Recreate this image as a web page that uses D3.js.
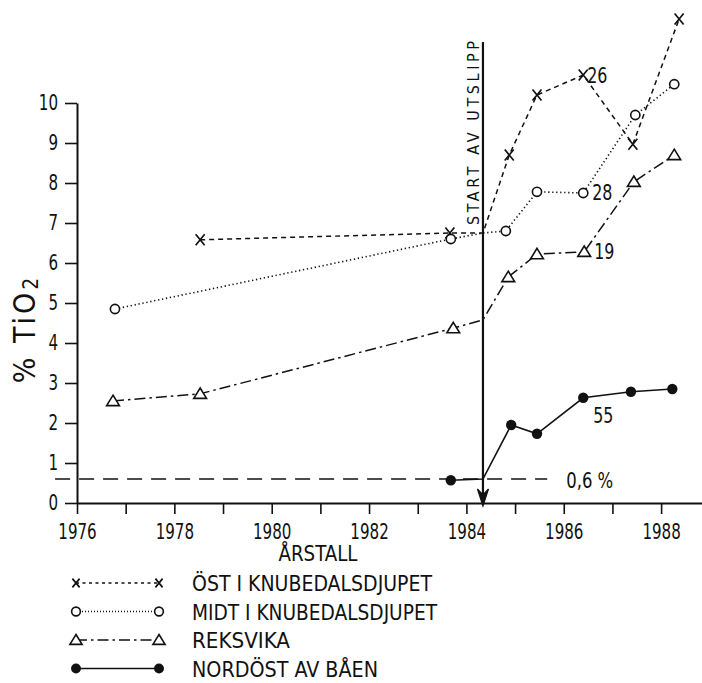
<!DOCTYPE html>
<html>
<head>
<meta charset="utf-8">
<script src="https://cdn.jsdelivr.net/npm/d3@7"></script>
<style>
  body { margin: 0; background: #fff; }
  svg text { font-family: "DejaVu Sans Condensed", "Liberation Sans", sans-serif; fill: #111; }
</style>
</head>
<body>
<div id="chart"></div>
<script>
var width = 702;
var height = 683;

// values (year, % TiO2), one pair of lists per station
var seriesNames = ["ÖST I KNUBEDALSDJUPET", "MIDT I KNUBEDALSDJUPET", "REKSVIKA", "NORDÖST AV BÅEN"];
var ostYears   = [1978.53, 1983.66, 1984.34, 1984.88, 1985.45, 1986.40, 1987.42, 1988.37];
var ostValues  = [6.58, 6.75, 6.75, 8.70, 10.20, 10.70, 8.97, 12.10];
var midtYears  = [1976.78, 1983.68, 1984.34, 1984.81, 1985.45, 1986.40, 1987.47, 1988.27];
var midtValues = [4.85, 6.60, 6.75, 6.80, 7.78, 7.75, 9.70, 10.47];
var reksYears  = [1976.74, 1978.53, 1983.73, 1984.34, 1984.86, 1985.45, 1986.42, 1987.44, 1988.27];
var reksValues = [2.55, 2.73, 4.37, 4.58, 5.65, 6.22, 6.28, 8.03, 8.70];
var nordYears  = [1983.68, 1984.34, 1984.92, 1985.45, 1986.40, 1987.38, 1988.23];
var nordValues = [0.57, 0.60, 1.95, 1.73, 2.63, 2.78, 2.85];

// numbers written next to the 1986 samples
var pointLabels = ["26", "28", "19", "55"];
var labelYear = 1986.4;

// discharge start and the 0.6 % background level
var startYear = 1984.34;
var startText = "START AV UTSLIPP";
var refValue = 0.6;
var refFrom = 1975.55;
var refTo = 1985.66;
var refText = "0,6 %";

var yearTicks = d3.range(1976, 1989);
var valueTicks = d3.range(0, 11);
var xTitle = "ÅRSTALL";

var svg = d3.select("#chart").append("svg")
  .attr("width", width)
  .attr("height", height)
  .style("display", "block");

var x = d3.scaleLinear().domain([1976, 1988.84]).range([77, 702]);
var y = d3.scaleLinear().domain([0, 10]).range([503, 103]);

var series = [
  {name: seriesNames[0], years: ostYears,  values: ostValues,  marker: "cross",    dash: "5,4",        width: 1.5},
  {name: seriesNames[1], years: midtYears, values: midtValues, marker: "circle",   dash: "1.3,2.7",    width: 1.6},
  {name: seriesNames[2], years: reksYears, values: reksValues, marker: "triangle", dash: "11,4,2.5,4", width: 1.5},
  {name: seriesNames[3], years: nordYears, values: nordValues, marker: "dot",      dash: null,         width: 1.6}
];
series.forEach(function(s){
  s.points = s.years.map(function(yr, i){ return {year: yr, value: s.values[i]}; });
});

// offsets of the small numbers from their point
var labelOffsets = [[4, 8], [9, 7], [10, 7], [10, 25]];

// the lettering on the drawing is a narrow stencil style, so squeeze the glyphs
var digitWidth = 9.6;
var narrow = function(sel, w){
  sel.attr("textLength", w).attr("lengthAdjust", "spacingAndGlyphs");
};

var drawMarker = function(g, type, size){
  var k = size || 1;
  if(type == "cross"){
    g.append("path")
      .attr("d", "M" + (-4.5*k) + "," + (-5.5*k) + "L" + (4.5*k) + "," + (5.5*k) +
                 "M" + (-4.5*k) + "," + (5.5*k) + "L" + (4.5*k) + "," + (-5.5*k))
      .attr("stroke", "#111").attr("stroke-width", 1.7).attr("fill", "none");
  } else if(type == "circle"){
    g.append("circle").attr("r", 4.6*k)
      .attr("fill", "#fff").attr("stroke", "#111").attr("stroke-width", 1.6);
  } else if(type == "triangle"){
    g.append("path")
      .attr("d", "M0," + (-5.8*k) + "L" + (6.4*k) + "," + (4.6*k) + "L" + (-6.4*k) + "," + (4.6*k) + "Z")
      .attr("fill", "#fff").attr("stroke", "#111").attr("stroke-width", 1.6);
  } else {
    g.append("circle").attr("r", 5.2*k).attr("fill", "#111");
  }
};

// axes
var xAxis = d3.axisBottom(x)
  .tickValues(yearTicks)
  .tickSizeInner(11)
  .tickSizeOuter(0)
  .tickPadding(10)
  .tickFormat(function(d){ return d % 2 == 0 ? d : ""; });

var yAxis = d3.axisLeft(y)
  .tickValues(valueTicks)
  .tickSizeInner(12)
  .tickSizeOuter(0)
  .tickPadding(7)
  .tickFormat(d3.format("d"));

var gx = svg.append("g")
  .attr("transform", "translate(0," + y(0) + ")")
  .call(xAxis);
var gy = svg.append("g")
  .attr("transform", "translate(" + x(1976) + ",0)")
  .call(yAxis);

[gx, gy].forEach(function(g){
  g.select(".domain").attr("stroke", "#111").attr("stroke-width", 2);
  g.selectAll(".tick line").attr("stroke", "#111").attr("stroke-width", 1.6);
  g.selectAll(".tick text")
    .attr("fill", "#111")
    .style("font-size", "21px")
    .style("font-family", "'DejaVu Sans Condensed', 'Liberation Sans', sans-serif")
    .each(function(){
      var t = d3.select(this);
      if(t.text() != ""){ narrow(t, t.text().length * digitWidth); }
    });
});

narrow(svg.append("text")
  .attr("x", 318)
  .attr("y", 561)
  .attr("text-anchor", "middle")
  .style("font-size", "21px")
  .text(xTitle), 79);

// y title, rotated, with subscript 2
var yt = svg.append("text")
  .attr("transform", "translate(35,329) rotate(-90)")
  .attr("text-anchor", "middle")
  .style("font-size", "30px")
  .style("letter-spacing", "3px");
yt.append("tspan").text("% TiO");
yt.append("tspan").attr("dy", 3).style("font-size", "21px").text("2");

// background level line
svg.append("line")
  .attr("x1", x(refFrom)).attr("x2", x(refTo))
  .attr("y1", y(refValue)).attr("y2", y(refValue))
  .attr("stroke", "#111").attr("stroke-width", 1.6)
  .attr("stroke-dasharray", "15,9");
narrow(svg.append("text")
  .attr("x", x(refTo) + 19)
  .attr("y", y(refValue) + 9)
  .style("font-size", "21px")
  .text(refText), 47);

// start of discharge: vertical line with arrow
var sx = x(startYear);
svg.append("line")
  .attr("x1", sx).attr("x2", sx)
  .attr("y1", 42).attr("y2", 505)
  .attr("stroke", "#111").attr("stroke-width", 2.2);
svg.append("path")
  .attr("d", "M" + (sx - 5.5) + ",489L" + sx + ",506L" + (sx + 5.5) + ",489L" + sx + ",495Z")
  .attr("fill", "#111").attr("stroke", "#111").attr("stroke-width", 1.2);
svg.append("text")
  .attr("transform", "translate(" + (sx - 4) + ",225) rotate(-90)")
  .attr("textLength", 184)
  .attr("lengthAdjust", "spacing")
  .style("font-size", "16px")
  .text(startText);

// series lines and markers
var line = d3.line()
  .x(function(d){ return x(d.year); })
  .y(function(d){ return y(d.value); });

var sg = svg.selectAll(".series")
  .data(series)
  .enter()
  .append("g")
  .attr("class", "series");

sg.append("path")
  .attr("d", function(d){ return line(d.points); })
  .attr("fill", "none")
  .attr("stroke", "#111")
  .attr("stroke-width", function(d){ return d.width; })
  .attr("stroke-dasharray", function(d){ return d.dash; });

sg.each(function(s, si){
  var g = d3.select(this);
  s.points.forEach(function(p){
    if(p.year == startYear){ return; }
    var m = g.append("g").attr("transform", "translate(" + x(p.year) + "," + y(p.value) + ")");
    drawMarker(m, s.marker);
  });
  // number next to the 1986 sample
  var best = d3.least(s.points, function(p){ return Math.abs(p.year - labelYear); });
  narrow(g.append("text")
    .attr("x", x(best.year) + labelOffsets[si][0])
    .attr("y", y(best.value) + labelOffsets[si][1])
    .style("font-size", "21px")
    .text(pointLabels[si]), 2 * digitWidth + 1);
});

// legend
var legendTop = 583;
var legendStep = 28.5;
var legendWidths = [240, 245, 98, 186];
var lg = svg.selectAll(".legend")
  .data(series)
  .enter()
  .append("g")
  .attr("class", "legend")
  .attr("transform", function(d, i){ return "translate(0," + (legendTop + i*legendStep) + ")"; });

lg.append("line")
  .attr("x1", 76).attr("x2", 159)
  .attr("stroke", "#111")
  .attr("stroke-width", function(d){ return d.width; })
  .attr("stroke-dasharray", function(d, i){ return i == 0 ? "3,3.5" : i == 1 ? "1,2" : d.dash; });

lg.each(function(s){
  var g = d3.select(this);
  [76, 159].forEach(function(px){
    var m = g.append("g").attr("transform", "translate(" + px + ",0)");
    drawMarker(m, s.marker, s.marker == "cross" ? 0.8 : 0.95);
  });
});

lg.append("text")
  .attr("x", 192)
  .attr("y", 8)
  .attr("textLength", function(d, i){ return legendWidths[i]; })
  .attr("lengthAdjust", "spacingAndGlyphs")
  .style("font-size", "21px")
  .text(function(d){ return d.name; });
</script>
</body>
</html>
